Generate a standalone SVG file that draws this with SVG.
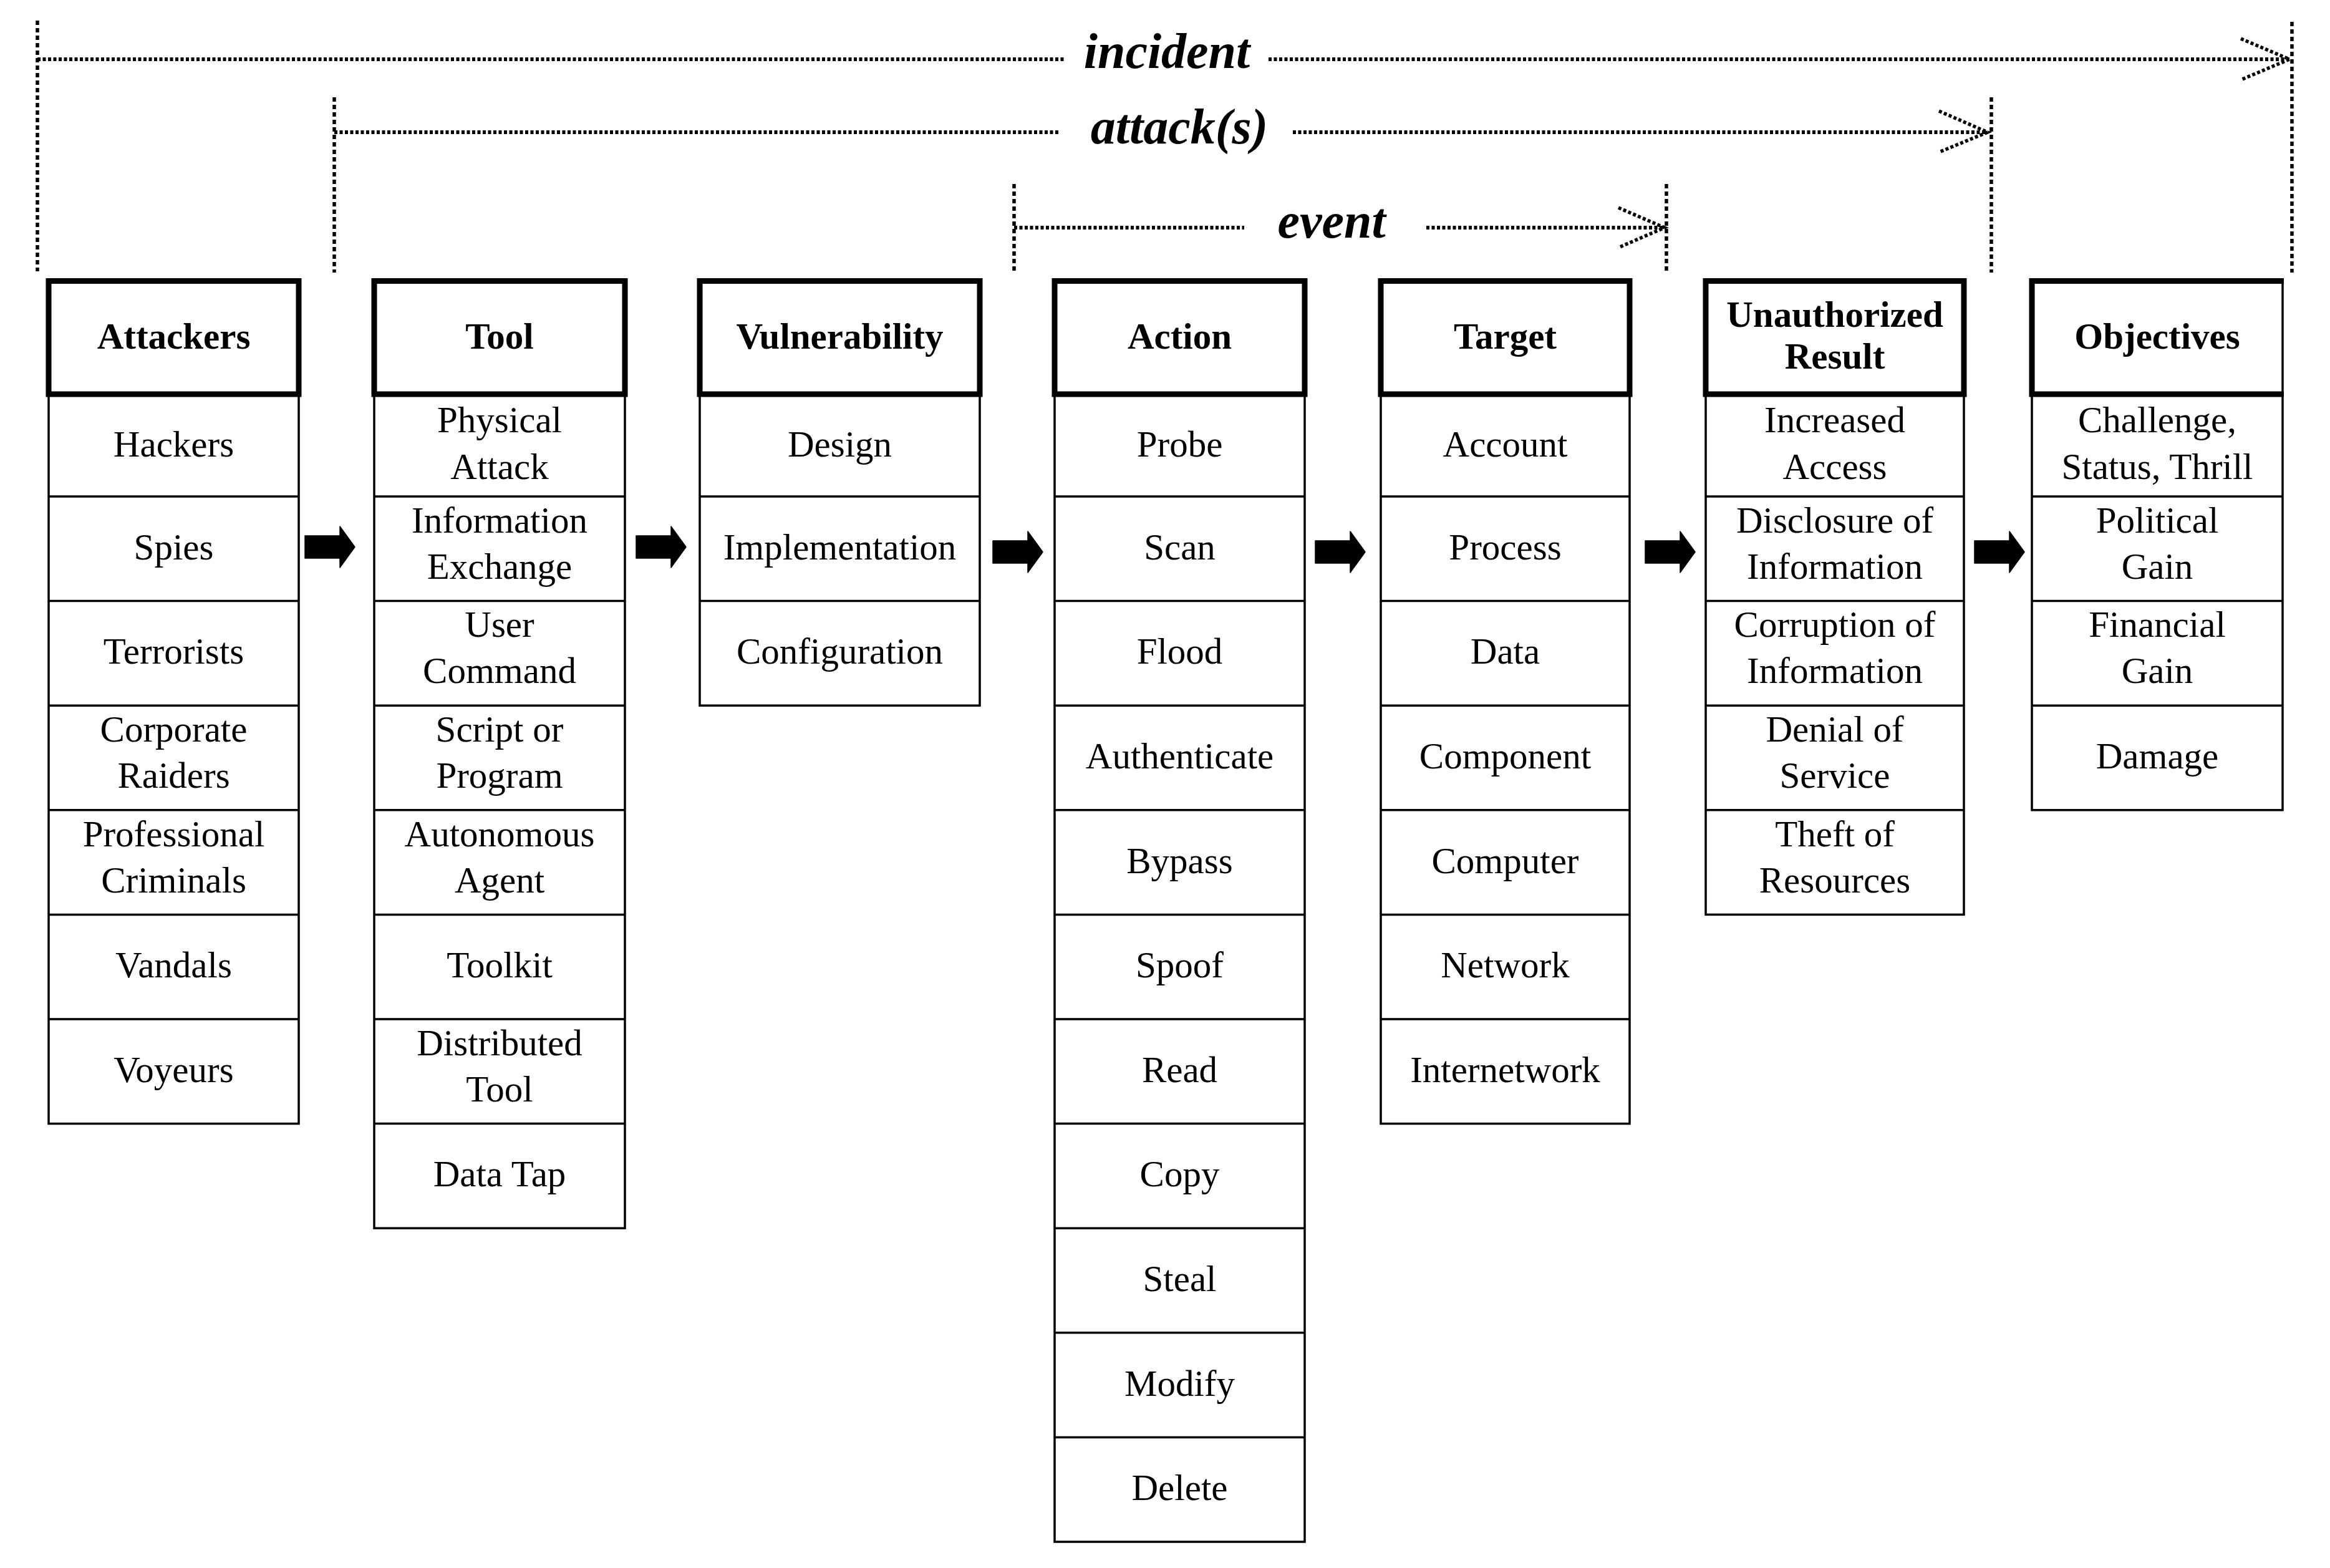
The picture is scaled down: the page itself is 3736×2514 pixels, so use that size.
<svg xmlns="http://www.w3.org/2000/svg" width="3736" height="2514" viewBox="0 0 3736 2514">
<defs>
<style>
.bg{fill:#fff}
.hd{fill:none;stroke:#000;stroke-width:9}
.rw{fill:none;stroke:#000;stroke-width:3.5}
.ht{font-family:"Liberation Serif",serif;font-weight:bold;font-size:59px;text-anchor:middle;fill:#000}
.it{font-family:"Liberation Serif",serif;font-size:59px;text-anchor:middle;fill:#000}
.lb{font-family:"Liberation Serif",serif;font-weight:bold;font-style:italic;font-size:80px;text-anchor:middle;fill:#000}
.dh{fill:none;stroke:#000;stroke-width:6;stroke-dasharray:5 3.5}
.dv{fill:none;stroke:#000;stroke-width:5.5;stroke-dasharray:7 5}
.da{fill:none;stroke:#000;stroke-width:5.5;stroke-dasharray:5 3.5}
.ar{fill:#000;stroke:#000;stroke-width:1.5;stroke-linejoin:round}
</style>
</defs>
<rect class="bg" x="0" y="0" width="3736" height="2514"/>

<g id="scopes">
<g id="incident">
<line class="dv" x1="60" y1="33" x2="60" y2="435"/>
<line class="dh" x1="60" y1="95" x2="1706" y2="95"/>
<line class="dh" x1="2034" y1="95" x2="3671" y2="95"/>
<polyline class="da" points="3593,62 3671,95 3593,128"/>
<line class="dv" x1="3675" y1="35" x2="3675" y2="437"/>
<text class="lb" x="1871" y="109">incident</text>
</g>
<g id="attacks">
<line class="dv" x1="536" y1="156" x2="536" y2="437"/>
<line class="dh" x1="536" y1="212" x2="1698" y2="212"/>
<line class="dh" x1="2073" y1="212" x2="3187" y2="212"/>
<polyline class="da" points="3109,178 3187,212 3109,244"/>
<line class="dv" x1="3193" y1="156" x2="3193" y2="437"/>
<text class="lb" x="1891" y="230">attack(s)</text>
</g>
<g id="event">
<line class="dv" x1="1626" y1="295" x2="1626" y2="437"/>
<line class="dh" x1="1626" y1="365" x2="1995" y2="365"/>
<line class="dh" x1="2287" y1="365" x2="2669" y2="365"/>
<polyline class="da" points="2595,333 2669,365 2595,397"/>
<line class="dv" x1="2672" y1="295" x2="2672" y2="437"/>
<text class="lb" x="2135" y="381">event</text>
</g>
</g>

<g id="attackers">
<rect class="rw" x="78" y="632" width="401" height="1169.6"/>
<path class="rw" d="M78 796H479M78 963.6H479M78 1131.2H479M78 1298.8H479M78 1466.4H479M78 1634H479"/>
<rect class="hd" x="78" y="450.5" width="401" height="181.5"/>
<text class="ht" x="278.5" y="559">Attackers</text>
<text class="it" x="278.5" y="732">Hackers</text>
<text class="it" x="278.5" y="897">Spies</text>
<text class="it" x="278.5" y="1064">Terrorists</text>
<text class="it" x="278.5" y="1189">Corporate</text>
<text class="it" x="278.5" y="1263">Raiders</text>
<text class="it" x="278.5" y="1357">Professional</text>
<text class="it" x="278.5" y="1431">Criminals</text>
<text class="it" x="278.5" y="1567">Vandals</text>
<text class="it" x="278.5" y="1735">Voyeurs</text>
</g>

<g id="tool">
<rect class="rw" x="600" y="632" width="402" height="1337.2"/>
<path class="rw" d="M600 796H1002M600 963.6H1002M600 1131.2H1002M600 1298.8H1002M600 1466.4H1002M600 1634H1002M600 1801.6H1002"/>
<rect class="hd" x="600" y="450.5" width="402" height="181.5"/>
<text class="ht" x="801" y="559">Tool</text>
<text class="it" x="801" y="693">Physical</text>
<text class="it" x="801" y="768">Attack</text>
<text class="it" x="801" y="854">Information</text>
<text class="it" x="801" y="928">Exchange</text>
<text class="it" x="801" y="1021">User</text>
<text class="it" x="801" y="1095">Command</text>
<text class="it" x="801" y="1189">Script or</text>
<text class="it" x="801" y="1263">Program</text>
<text class="it" x="801" y="1357">Autonomous</text>
<text class="it" x="801" y="1431">Agent</text>
<text class="it" x="801" y="1567">Toolkit</text>
<text class="it" x="801" y="1692">Distributed</text>
<text class="it" x="801" y="1766">Tool</text>
<text class="it" x="801" y="1902">Data Tap</text>
</g>

<g id="vulnerability">
<rect class="rw" x="1122" y="632" width="449" height="499.2"/>
<path class="rw" d="M1122 796H1571M1122 963.6H1571"/>
<rect class="hd" x="1122" y="450.5" width="449" height="181.5"/>
<text class="ht" x="1346.5" y="559">Vulnerability</text>
<text class="it" x="1346.5" y="732">Design</text>
<text class="it" x="1346.5" y="897">Implementation</text>
<text class="it" x="1346.5" y="1064">Configuration</text>
</g>

<g id="action">
<rect class="rw" x="1691" y="632" width="401" height="1840"/>
<path class="rw" d="M1691 796H2092M1691 963.6H2092M1691 1131.2H2092M1691 1298.8H2092M1691 1466.4H2092M1691 1634H2092M1691 1801.6H2092M1691 1969.2H2092M1691 2136.8H2092M1691 2304.4H2092"/>
<rect class="hd" x="1691" y="450.5" width="401" height="181.5"/>
<text class="ht" x="1891.5" y="559">Action</text>
<text class="it" x="1891.5" y="732">Probe</text>
<text class="it" x="1891.5" y="897">Scan</text>
<text class="it" x="1891.5" y="1064">Flood</text>
<text class="it" x="1891.5" y="1232">Authenticate</text>
<text class="it" x="1891.5" y="1400">Bypass</text>
<text class="it" x="1891.5" y="1567">Spoof</text>
<text class="it" x="1891.5" y="1735">Read</text>
<text class="it" x="1891.5" y="1902">Copy</text>
<text class="it" x="1891.5" y="2070">Steal</text>
<text class="it" x="1891.5" y="2238">Modify</text>
<text class="it" x="1891.5" y="2405">Delete</text>
</g>

<g id="target">
<rect class="rw" x="2214" y="632" width="399" height="1169.6"/>
<path class="rw" d="M2214 796H2613M2214 963.6H2613M2214 1131.2H2613M2214 1298.8H2613M2214 1466.4H2613M2214 1634H2613"/>
<rect class="hd" x="2214" y="450.5" width="399" height="181.5"/>
<text class="ht" x="2413.5" y="559">Target</text>
<text class="it" x="2413.5" y="732">Account</text>
<text class="it" x="2413.5" y="897">Process</text>
<text class="it" x="2413.5" y="1064">Data</text>
<text class="it" x="2413.5" y="1232">Component</text>
<text class="it" x="2413.5" y="1400">Computer</text>
<text class="it" x="2413.5" y="1567">Network</text>
<text class="it" x="2413.5" y="1735">Internetwork</text>
</g>

<g id="unauthorized-result">
<rect class="rw" x="2735" y="632" width="414" height="834.4"/>
<path class="rw" d="M2735 796H3149M2735 963.6H3149M2735 1131.2H3149M2735 1298.8H3149"/>
<rect class="hd" x="2735" y="450.5" width="414" height="181.5"/>
<text class="ht" x="2942" y="524">Unauthorized</text>
<text class="ht" x="2942" y="591">Result</text>
<text class="it" x="2942" y="693">Increased</text>
<text class="it" x="2942" y="768">Access</text>
<text class="it" x="2942" y="854">Disclosure of</text>
<text class="it" x="2942" y="928">Information</text>
<text class="it" x="2942" y="1021">Corruption of</text>
<text class="it" x="2942" y="1095">Information</text>
<text class="it" x="2942" y="1189">Denial of</text>
<text class="it" x="2942" y="1263">Service</text>
<text class="it" x="2942" y="1357">Theft of</text>
<text class="it" x="2942" y="1431">Resources</text>
</g>

<g id="objectives">
<rect class="rw" x="3258" y="632" width="402" height="666.8"/>
<path class="rw" d="M3258 796H3660M3258 963.6H3660M3258 1131.2H3660"/>
<path class="rw" d="M3660 450V632"/>
<path class="hd" d="M3662 450.5H3258V632H3662"/>
<text class="ht" x="3459" y="559">Objectives</text>
<text class="it" x="3459" y="693">Challenge,</text>
<text class="it" x="3459" y="768">Status, Thrill</text>
<text class="it" x="3459" y="854">Political</text>
<text class="it" x="3459" y="928">Gain</text>
<text class="it" x="3459" y="1021">Financial</text>
<text class="it" x="3459" y="1095">Gain</text>
<text class="it" x="3459" y="1232">Damage</text>
</g>

<g id="connectors">
<path class="ar" d="M489 859H545V844L569 877L545 910V895H489Z"/>
<path class="ar" d="M1020 859H1076V844L1100 877L1076 910V895H1020Z"/>
<path class="ar" d="M1592 867H1648V852L1672 885L1648 918V903H1592Z"/>
<path class="ar" d="M2109 867H2165V852L2189 885L2165 918V903H2109Z"/>
<path class="ar" d="M2638 867H2694V852L2718 885L2694 918V903H2638Z"/>
<path class="ar" d="M3166 867H3222V852L3246 885L3222 918V903H3166Z"/>
</g>
</svg>
